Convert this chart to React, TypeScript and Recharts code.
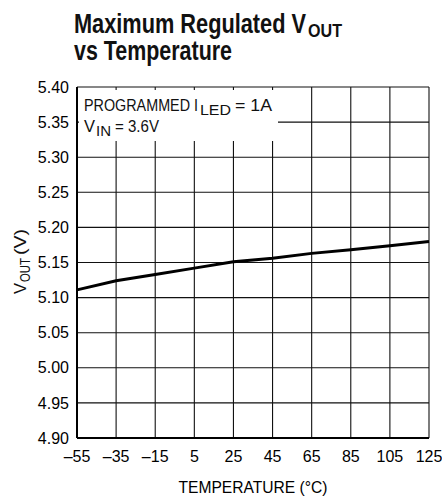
import React from 'react';
import { LineChart, Line, XAxis, YAxis, CartesianGrid } from 'recharts';

const temps = [-55, -35, -15, 5, 25, 45, 65, 85, 105, 125];
const vout = [5.111, 5.124, 5.133, 5.142, 5.151, 5.156, 5.163, 5.168, 5.174, 5.18];
const xTicks = [-55, -35, -15, 5, 25, 45, 65, 85, 105, 125];
const yTicks = [4.9, 4.95, 5.0, 5.05, 5.1, 5.15, 5.2, 5.25, 5.3, 5.35, 5.4];

const data = temps.map((t, i) => ({ t, v: vout[i] }));

const FONT = '"Liberation Sans", Arial, sans-serif';
const tickStyle = { fontSize: 16, fill: '#000', fontFamily: FONT };

const fmtX = (v: number) => (v < 0 ? '\u2013' + Math.abs(v) : String(v));
const fmtY = (v: number) => v.toFixed(2);

type TProps = { x: number; y: number; w: number; size: number; bold?: boolean; children: React.ReactNode };
const T = ({ x, y, w, size, bold, children }: TProps) => (
  <text x={x} y={y} fontFamily={FONT} fontWeight={bold ? 'bold' : 'normal'} fontSize={size} fill="#111"
    textLength={w} lengthAdjust="spacingAndGlyphs">
    {children}
  </text>
);

export default function App() {
  return (
    <div style={{ position: 'absolute', left: 0, top: 0, width: 442, height: 500, background: '#fff' }}>
      <LineChart
        width={442}
        height={500}
        data={data}
        margin={{ top: 87, right: 13, bottom: 0, left: 0 }}
      >
        <CartesianGrid stroke="#111" strokeWidth={1.1} verticalValues={xTicks} horizontalValues={yTicks} />
        <XAxis
          dataKey="t"
          type="number"
          domain={[-55, 125]}
          ticks={xTicks}
          tickFormatter={fmtX}
          tick={tickStyle}
          tickLine={false}
          tickSize={0}
          tickMargin={13}
          height={62}
          axisLine={{ stroke: '#000', strokeWidth: 2 }}
          interval={0}
        />
        <XAxis
          xAxisId="top"
          orientation="top"
          dataKey="t"
          type="number"
          domain={[-55, 125]}
          ticks={[]}
          tick={false}
          tickLine={false}
          height={0}
          axisLine={{ stroke: '#000', strokeWidth: 2 }}
        />
        <YAxis
          type="number"
          domain={[4.9, 5.4]}
          ticks={yTicks}
          tickFormatter={fmtY}
          tick={tickStyle}
          tickLine={false}
          tickSize={0}
          tickMargin={8}
          width={77}
          axisLine={{ stroke: '#000', strokeWidth: 2 }}
          interval={0}
        />
        <YAxis
          yAxisId="right"
          orientation="right"
          type="number"
          domain={[4.9, 5.4]}
          ticks={[]}
          tick={false}
          tickLine={false}
          width={0}
          axisLine={{ stroke: '#000', strokeWidth: 2 }}
        />
        <Line
          dataKey="v"
          type="linear"
          stroke="#000"
          strokeWidth={3}
          dot={false}
          isAnimationActive={false}
        />
      </LineChart>
      <svg
        width={442}
        height={500}
        style={{ position: 'absolute', left: 0, top: 0, pointerEvents: 'none' }}
      >
        <T x={74} y={33} w={232} size={27} bold>Maximum Regulated V</T>
        <T x={308} y={37} w={34} size={19} bold>OUT</T>
        <T x={74} y={60} w={158} size={27} bold>vs Temperature</T>

        <rect x={79} y={90} width={199} height={51} fill="#fff" />
        <T x={84} y={110.5} w={114} size={17}>PROGRAMMED I</T>
        <T x={200} y={114.5} w={31} size={14}>LED</T>
        <T x={235} y={110.5} w={37} size={17}>= 1A</T>
        <T x={84} y={132} w={11} size={17}>V</T>
        <T x={96} y={136} w={15} size={14}>IN</T>
        <T x={115} y={132} w={44} size={17}>= 3.6V</T>

        <text x={253} y={493} textAnchor="middle" fontFamily={FONT} fontSize={17} fill="#000"
          textLength={149} lengthAdjust="spacingAndGlyphs">
          TEMPERATURE (°C)
        </text>
        <g transform="translate(26,294) rotate(-90)">
          <T x={0} y={0} w={11} size={17}>V</T>
          <T x={12} y={4} w={24} size={14}>OUT</T>
          <T x={39} y={0} w={26} size={17}>(V)</T>
        </g>
      </svg>
    </div>
  );
}
